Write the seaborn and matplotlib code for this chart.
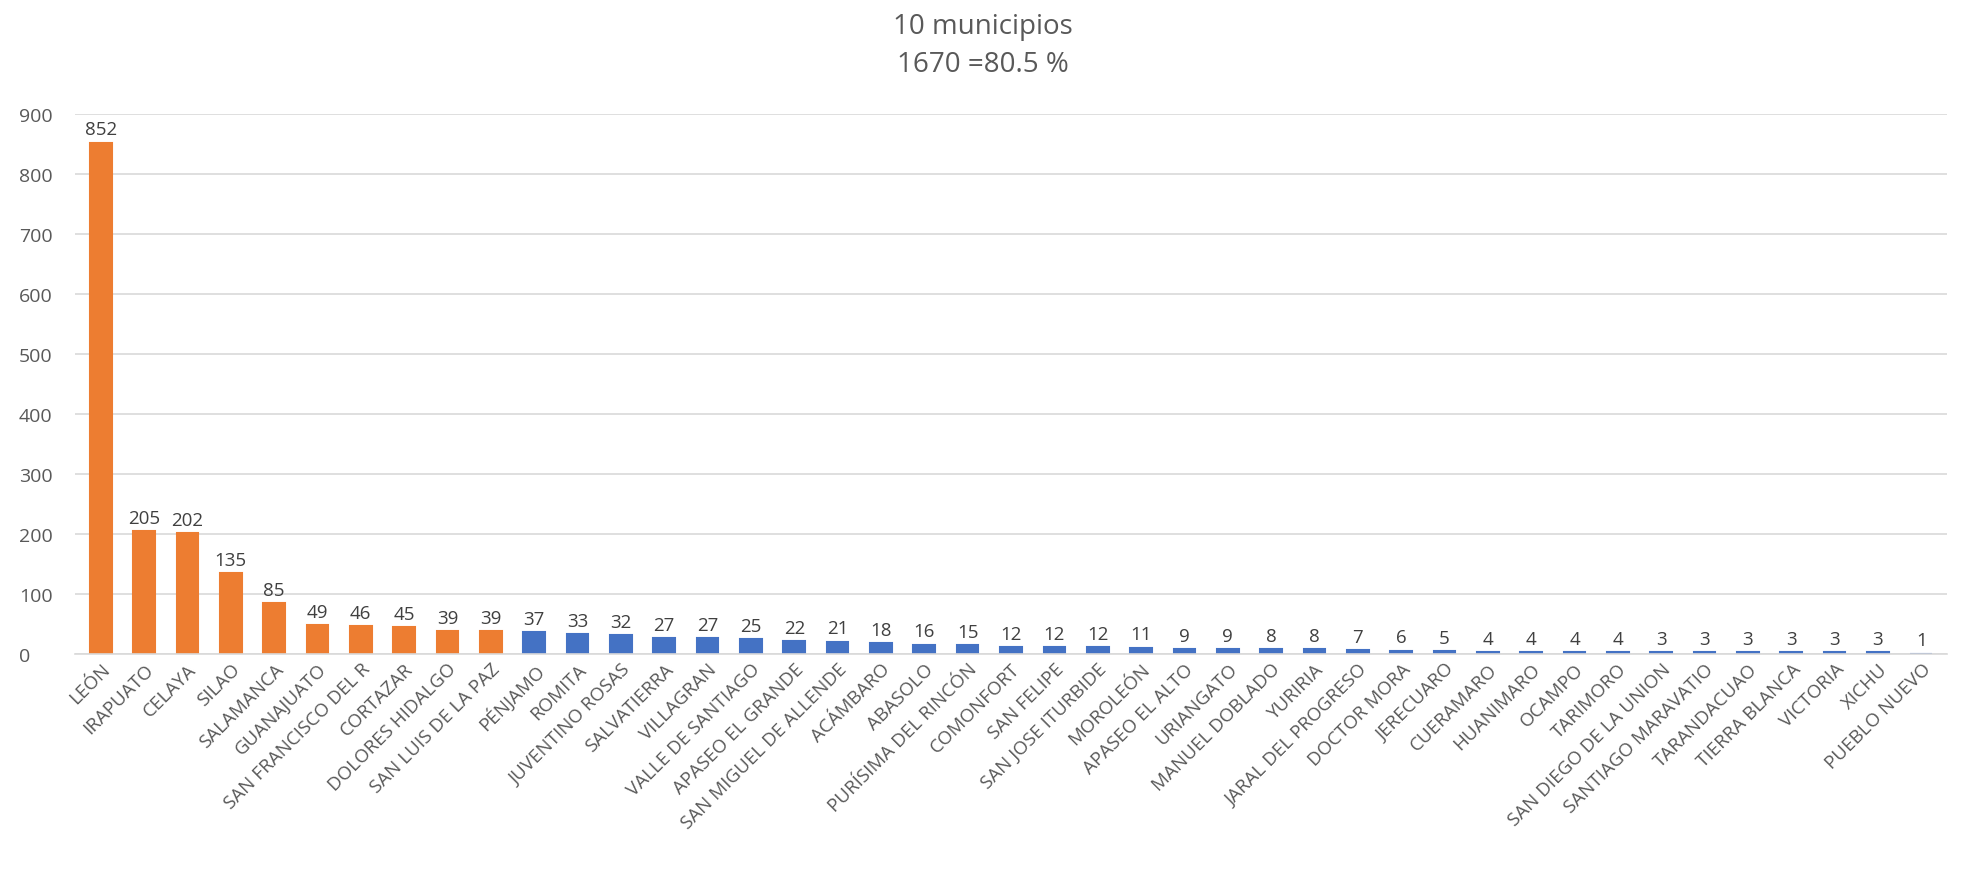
import pandas as pd
import numpy as np
from matplotlib import pyplot as plt
import seaborn as sns

municipios = ["LEÓN", "IRAPUATO", "CELAYA", "SILAO", "SALAMANCA", "GUANAJUATO",
              "SAN FRANCISCO DEL R", "CORTAZAR", "DOLORES HIDALGO", "SAN LUIS DE LA PAZ",
              "PÉNJAMO", "ROMITA", "JUVENTINO ROSAS", "SALVATIERRA", "VILLAGRAN",
              "VALLE DE SANTIAGO", "APASEO EL GRANDE", "SAN MIGUEL DE ALLENDE", "ACÁMBARO",
              "ABASOLO", "PURÍSIMA DEL RINCÓN", "COMONFORT", "SAN FELIPE", "SAN JOSE ITURBIDE",
              "MOROLEÓN", "APASEO EL ALTO", "URIANGATO", "MANUEL DOBLADO", "YURIRIA",
              "JARAL DEL PROGRESO", "DOCTOR MORA", "JERECUARO", "CUERAMARO", "HUANIMARO",
              "OCAMPO", "TARIMORO", "SAN DIEGO DE LA UNION", "SANTIAGO MARAVATIO",
              "TARANDACUAO", "TIERRA BLANCA", "VICTORIA", "XICHU", "PUEBLO NUEVO"]
casos = [852, 205, 202, 135, 85, 49, 46, 45, 39, 39,
         37, 33, 32, 27, 27, 25, 22, 21, 18, 16, 15, 12, 12, 12, 11, 9, 9, 8, 8, 7, 6,
         5, 4, 4, 4, 4, 3, 3, 3, 3, 3, 3, 1]
n_top = 10

df = pd.DataFrame({"Municipio": municipios, "Casos": casos})
df["Grupo"] = ["top" if i < n_top else "resto" for i in range(len(df))]

sns.set_theme(style="white")
plt.rcParams['font.family'] = ['Open Sans', 'DejaVu Sans']

fig = plt.figure(figsize=(19.65, 8.7), dpi=100)
ax = fig.add_axes([0.038, 0.247, 0.953, 0.621])

colores = {"top": "#ED7D31", "resto": "#4472C4"}
sns.barplot(data=df, x="Municipio", y="Casos", hue="Grupo", palette=colores,
            dodge=False, width=0.5, legend=False, ax=ax, saturation=1)

# keep the tiny bars visible, like Excel does
for cont in ax.containers:
    for bar in cont:
        bar.set_edgecolor(bar.get_facecolor())
        bar.set_linewidth(1.5)
    ax.bar_label(cont, fontsize=13.5, color="#404040", padding=3)

ax.set_ylim(0, 900)
ax.set_yticks(np.arange(0, 901, 100))
ax.set_xlim(-0.6, len(df) - 0.4)
ax.yaxis.grid(True, color="#d9d9d9", linewidth=1.2)
ax.set_axisbelow(True)
for s in ["top", "right", "left"]:
    ax.spines[s].set_visible(False)
ax.spines["bottom"].set_color("#d9d9d9")
ax.spines["bottom"].set_linewidth(1.2)
ax.set_xlabel("")
ax.set_ylabel("")
ax.tick_params(axis="y", labelsize=14, colors="#595959", length=0, pad=40)
for lbl in ax.get_yticklabels():
    lbl.set_horizontalalignment("left")
ax.tick_params(axis="x", labelsize=13.5, colors="#595959", length=0, pad=4)
plt.setp(ax.get_xticklabels(), rotation=45, ha="right", rotation_mode="anchor")

fig.suptitle("10 municipios\n1670 =80.5 %", fontsize=20, color="#595959",
             y=0.985, linespacing=1.45)

plt.savefig("out.png", dpi=100)
